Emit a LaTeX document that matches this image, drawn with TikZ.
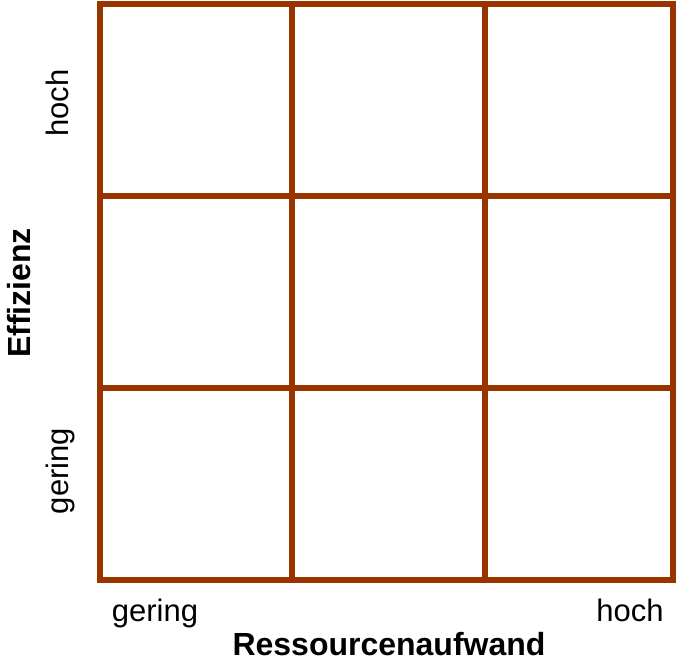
\documentclass[tikz,border=0pt]{standalone}
\usepackage{fontspec}
\setmainfont{Liberation Sans}
\definecolor{gridc}{RGB}{153,51,0}
\begin{document}
\begin{tikzpicture}[x=1pt,y=-1pt,
  gridline/.style={draw=gridc,line width=5.5pt},
  lbl/.style={font=\fontsize{31}{36}\selectfont,inner sep=0pt},
  blbl/.style={font=\fontsize{32}{38}\selectfont\bfseries,inner sep=0pt}]
\useasboundingbox (0,0) rectangle (676,664);
\fill[white] (0,0) rectangle (676,664);
\draw[gridline] (100,4) coordinate (tl) rectangle (673,580) coordinate (br);
\draw[gridline] (292,4) coordinate (v1a) -- (292,580) coordinate (v1b);
\draw[gridline] (485,4) coordinate (v2a) -- (485,580) coordinate (v2b);
\draw[gridline] (100,196) coordinate (h1a) -- (673,196) coordinate (h1b);
\draw[gridline] (100,388) coordinate (h2a) -- (673,388) coordinate (h2b);
\node[lbl,anchor=base] (xlo) at (155,621) {gering};
\node[lbl,anchor=base] (xhi) at (630,621) {hoch};
\node[blbl,anchor=base] (xt) at (389,655) {Ressourcenaufwand};
\node[lbl,anchor=base,rotate=90] (yhi) at (68,103) {hoch};
\node[lbl,anchor=base,rotate=90] (ylo) at (68,471) {gering};
\node[blbl,anchor=base,rotate=90] (yt) at (30,293) {Effizienz};
\end{tikzpicture}
\end{document}
